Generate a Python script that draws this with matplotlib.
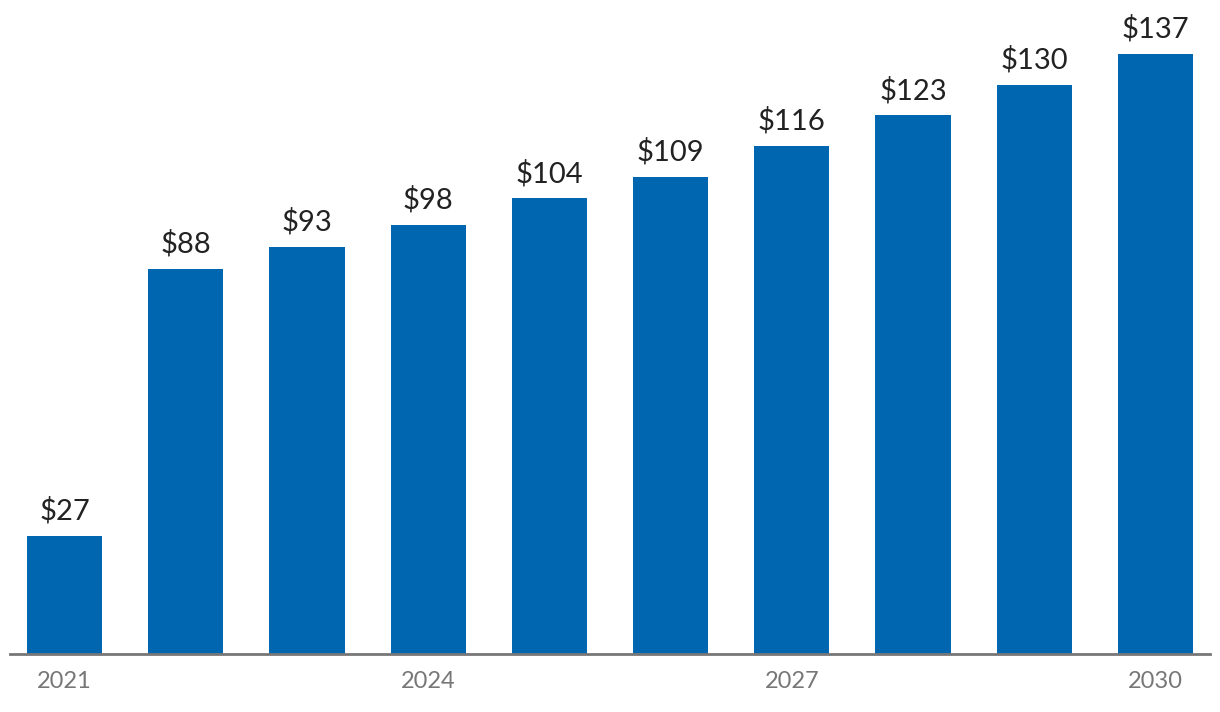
import matplotlib
matplotlib.use("Agg")
import matplotlib.pyplot as plt

years = [2021, 2022, 2023, 2024, 2025, 2026, 2027, 2028, 2029, 2030]
values = [27, 88, 93, 98, 104, 109, 116, 123, 130, 137]
tick_years = [2021, 2024, 2027, 2030]

plt.rcParams['font.family'] = ['Lato', 'DejaVu Sans']

fig = plt.figure(figsize=(12.2, 7.12), dpi=100)
ax = fig.add_axes([10 / 1220, 58 / 712, 1200 / 1220, 654 / 712])

x = list(range(len(years)))
bars = ax.bar(x, values, width=0.62, color='#0066B0')
for xi, v in zip(x, values):
    ax.annotate("${}".format(v), (xi, v), xytext=(0, 8), textcoords='offset points',
                ha='center', va='bottom', fontsize=21, color='#222222')

ax.set_xlim(-0.45, 9.45)
ax.set_ylim(0, 149.3)
ax.set_xticks([years.index(y) for y in tick_years])
ax.set_xticklabels([str(y) for y in tick_years], fontsize=17, color='#777777')
ax.tick_params(axis='x', length=0, pad=12)
ax.set_yticks([])
for s in ['top', 'left', 'right']:
    ax.spines[s].set_visible(False)
ax.spines['bottom'].set_color('#777777')
ax.spines['bottom'].set_linewidth(2)
ax.patch.set_alpha(0)

fig.savefig('out.png', dpi=100)
